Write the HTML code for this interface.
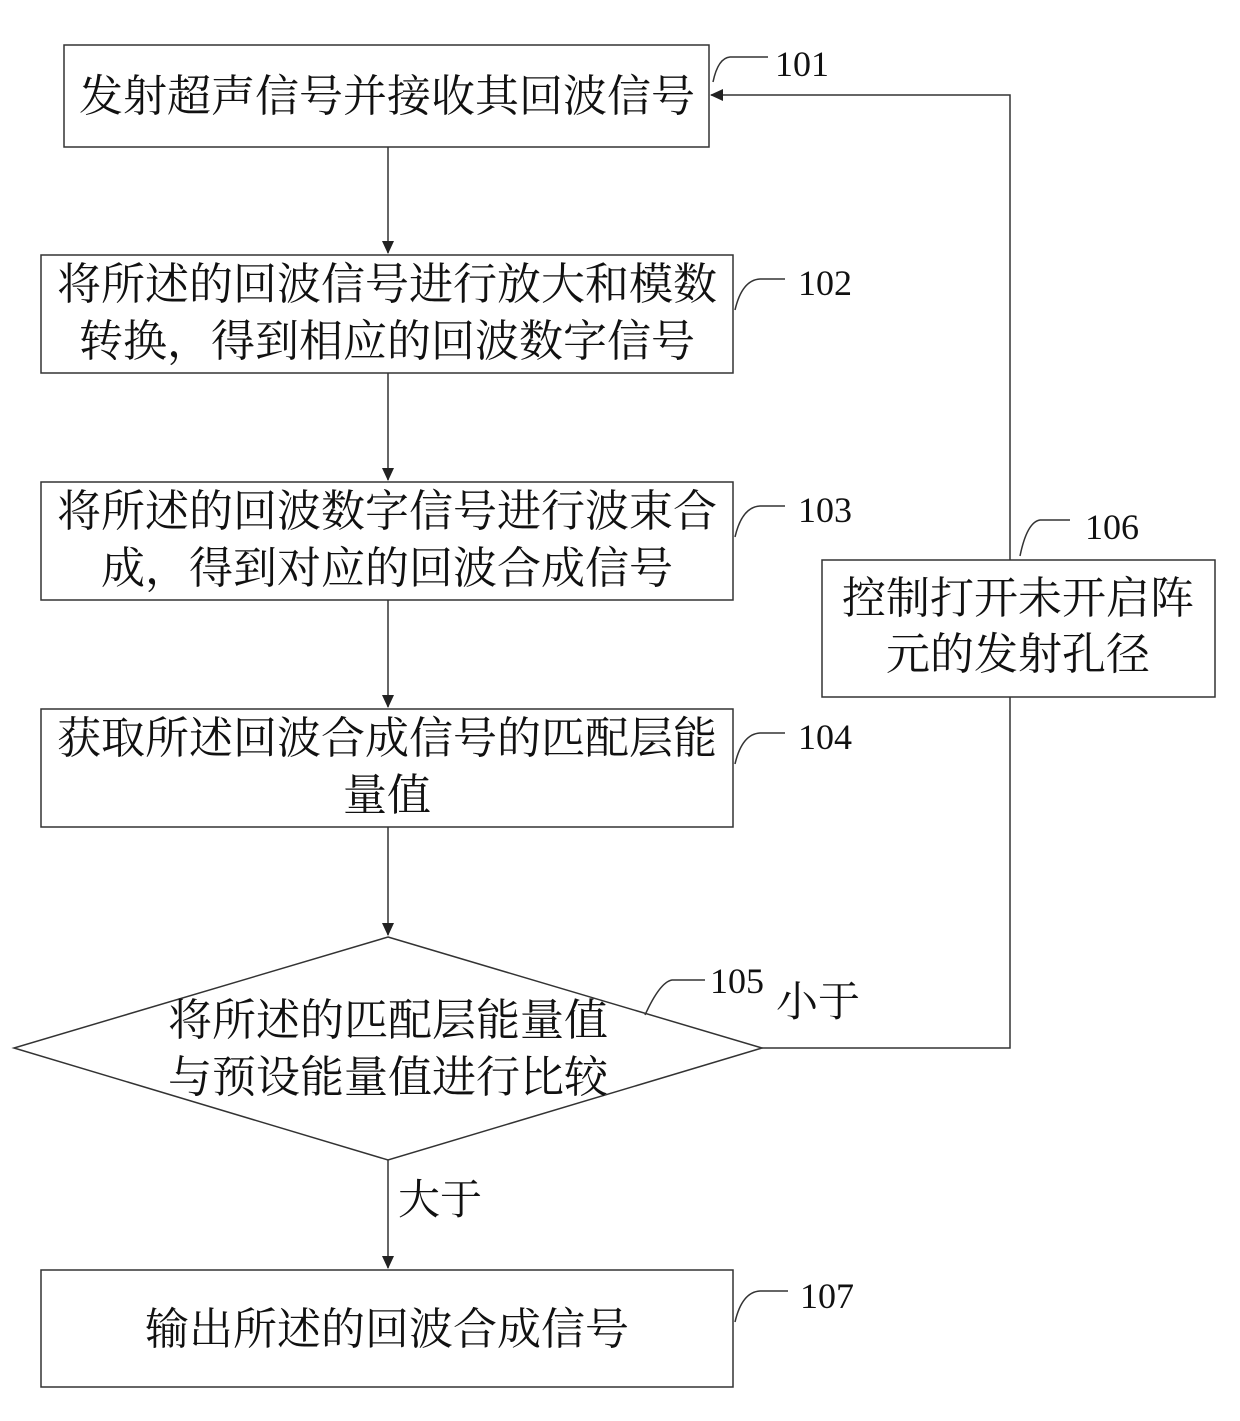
<!DOCTYPE html>
<html><head><meta charset="utf-8"><style>body{margin:0;background:#fff}svg text{font-family:"Liberation Serif","Noto Serif CJK SC",serif;fill:#111}</style></head>
<body>
<svg width="1240" height="1416" viewBox="0 0 1240 1416" xmlns="http://www.w3.org/2000/svg">
<defs><marker id="a" markerWidth="14" markerHeight="14" refX="12" refY="6" orient="auto" markerUnits="userSpaceOnUse"><path d="M0,0 L13,6 L0,12 Z" fill="#222"/></marker></defs>
<g fill="none" stroke="#333" stroke-width="1.5">
<rect x="64" y="45" width="645" height="102"/>
<rect x="41" y="255" width="692" height="118"/>
<rect x="41" y="482" width="692" height="118"/>
<rect x="41" y="709" width="692" height="118"/>
<polygon points="388,937 762,1048 388,1160 14,1048"/>
<rect x="822" y="560" width="393" height="137"/>
<rect x="41" y="1270" width="692" height="117"/>
<line x1="388" y1="147" x2="388" y2="253" marker-end="url(#a)"/>
<line x1="388" y1="373" x2="388" y2="480" marker-end="url(#a)"/>
<line x1="388" y1="600" x2="388" y2="707" marker-end="url(#a)"/>
<line x1="388" y1="827" x2="388" y2="935" marker-end="url(#a)"/>
<line x1="388" y1="1160" x2="388" y2="1268" marker-end="url(#a)"/>
<polyline points="762,1048 1010,1048 1010,697"/>
<polyline points="1010,560 1010,95 711,95" marker-end="url(#a)"/>
<path d="M713,82 Q718,58 730,57 L768,57"/>
<path d="M735,310 Q742,280 760,279 L785,279"/>
<path d="M735,537 Q742,507 760,506 L785,506"/>
<path d="M735,764 Q742,734 760,733 L785,733"/>
<path d="M645,1015 Q660,982 672,980 L705,980"/>
<path d="M1020,556 Q1027,522 1040,520 L1070,520"/>
<path d="M735,1322 Q742,1292 760,1291 L788,1291"/>
</g>
<g font-size="44" text-anchor="middle">
<text x="387" y="111">发射超声信号并接收其回波信号</text>
<text x="387" y="299">将所述的回波信号进行放大和模数</text>
<text x="387" y="356">转换，得到相应的回波数字信号</text>
<text x="387" y="526">将所述的回波数字信号进行波束合</text>
<text x="387" y="583">成，得到对应的回波合成信号</text>
<text x="387" y="753">获取所述回波合成信号的匹配层能</text>
<text x="387" y="810">量值</text>
<text x="388" y="1035">将所述的匹配层能量值</text>
<text x="388" y="1092">与预设能量值进行比较</text>
<text x="1018" y="613">控制打开未开启阵</text>
<text x="1018" y="669">元的发射孔径</text>
<text x="387" y="1344">输出所述的回波合成信号</text>
</g>
<g font-size="40">
<text x="818" y="1016" font-size="42" text-anchor="middle">小于</text>
<text x="440" y="1214" font-size="42" text-anchor="middle">大于</text>
<text x="775" y="76" font-size="36">101</text>
<text x="798" y="295" font-size="36">102</text>
<text x="798" y="522" font-size="36">103</text>
<text x="798" y="749" font-size="36">104</text>
<text x="710" y="993" font-size="36">105</text>
<text x="1085" y="539" font-size="36">106</text>
<text x="800" y="1308" font-size="36">107</text>
</g>
</svg>
</body></html>
